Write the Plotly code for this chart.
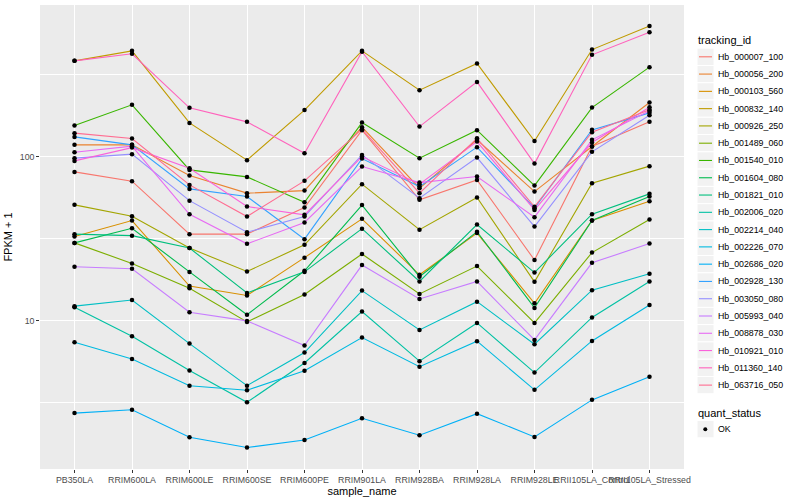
import plotly.graph_objects as go

samples = ["PB350LA", "RRIM600LA", "RRIM600LE", "RRIM600SE", "RRIM600PE",
           "RRIM901LA", "RRIM928BA", "RRIM928LA", "RRIM928LE",
           "RRII105LA_Control", "RRII105LA_Stressed"]

tracking_ids = ["Hb_000007_100", "Hb_000056_200", "Hb_000103_560", "Hb_000832_140",
                "Hb_000926_250", "Hb_001489_060", "Hb_001540_010", "Hb_001604_080",
                "Hb_001821_010", "Hb_002006_020", "Hb_002214_040", "Hb_002226_070",
                "Hb_002686_020", "Hb_002928_130", "Hb_003050_080", "Hb_005993_040",
                "Hb_008878_030", "Hb_010921_010", "Hb_011360_140", "Hb_063716_050"]

colors = ["#F8766D", "#EA8331", "#D89000", "#C09B00", "#A3A500", "#7CAE00",
          "#39B600", "#00BB4E", "#00BF7D", "#00C1A3", "#00BFC4", "#00BAE0",
          "#00B0F6", "#35A2FF", "#9590FF", "#C77CFF", "#E76BF3", "#FA62DB",
          "#FF62BC", "#FF6C91"]

# FPKM + 1 values per sample
Hb_000007_100 = [81.0, 71.1, 33.8, 33.8, 49.1, 145.5, 54.7, 72.4, 23.5, 115.6, 163.5]
Hb_000056_200 = [118.4, 118.4, 76.9, 60.1, 62.3, 151.8, 64.4, 127.0, 61.4, 115.6, 214.4]
Hb_000103_560 = [32.7, 40.9, 16.3, 14.3, 24.3, 41.9, 19.1, 34.3, 12.8, 40.9, 53.7]
Hb_000832_140 = [385, 443, 161, 95.5, 193, 443, 255, 371, 125, 451, 627]
Hb_000926_250 = [51.0, 43.5, 27.8, 20.0, 29.1, 68.2, 36.0, 56.5, 17.3, 69.1, 87.8]
Hb_001489_060 = [29.9, 22.4, 15.8, 9.86, 14.5, 25.6, 14.6, 21.6, 9.72, 26.1, 41.5]
Hb_001540_010 = [155.2, 207.6, 83.3, 75.5, 52.9, 161.9, 98.2, 145.5, 66.8, 199.8, 352.4]
Hb_001604_080 = [29.9, 36.7, 19.9, 10.9, 20.2, 50.8, 18.6, 35.0, 12.0, 40.9, 57.3]
Hb_001821_010 = [33.8, 33.1, 27.8, 14.8, 19.9, 36.5, 17.4, 38.7, 19.7, 44.7, 59.5]
Hb_002006_020 = [12.1, 8.07, 4.98, 3.19, 5.54, 11.4, 5.68, 9.72, 4.84, 10.5, 17.4]
Hb_002214_040 = [12.3, 13.4, 7.27, 4.03, 6.41, 15.3, 8.81, 13.1, 7.21, 15.4, 19.4]
Hb_002226_070 = [7.41, 5.86, 4.02, 3.78, 4.96, 7.91, 5.26, 7.52, 3.80, 7.55, 12.5]
Hb_002686_020 = [2.74, 2.87, 1.95, 1.69, 1.88, 2.55, 2.01, 2.72, 1.96, 3.30, 4.56]
Hb_002928_130 = [132.4, 118.4, 63.8, 57.3, 31.5, 97.6, 65.9, 114.6, 48.7, 146.1, 185.5]
Hb_003050_080 = [98.2, 103.9, 54.1, 34.7, 43.3, 102.8, 56.0, 99.0, 37.6, 107.3, 179.6]
Hb_005993_040 = [21.4, 20.8, 11.3, 10.0, 7.07, 21.9, 13.6, 17.4, 7.66, 22.6, 29.6]
Hb_008878_030 = [106.8, 116.2, 44.7, 29.5, 39.8, 87.3, 69.7, 75.9, 42.9, 127.0, 190.8]
Hb_010921_010 = [94.5, 113.9, 85.3, 49.8, 44.3, 100.4, 68.2, 124.0, 47.5, 122.3, 200.9]
Hb_011360_140 = [385, 425, 199, 163.5, 105.3, 438, 153, 286.6, 91.0, 418.8, 576]
Hb_063716_050 = [139.5, 129.3, 67.5, 43.3, 71.4, 147.5, 60.1, 130.0, 49.6, 141.5, 193.5]

series = [Hb_000007_100, Hb_000056_200, Hb_000103_560, Hb_000832_140, Hb_000926_250,
          Hb_001489_060, Hb_001540_010, Hb_001604_080, Hb_001821_010, Hb_002006_020,
          Hb_002214_040, Hb_002226_070, Hb_002686_020, Hb_002928_130, Hb_003050_080,
          Hb_005993_040, Hb_008878_030, Hb_010921_010, Hb_011360_140, Hb_063716_050]

quant_status = ["OK"]

FONT = "Liberation Sans, Arial, sans-serif"

W, H = 800, 500
ML, MR, MT, MB = 40, 116, 5, 31
PW, PH = W - ML - MR, H - MT - MB


def fx(px):
    return (px - ML) / PW


def fy(py):
    return (H - MB - py) / PH


fig = go.Figure()

for name, vals, col in zip(tracking_ids, series, colors):
    fig.add_trace(go.Scatter(
        x=samples, y=vals, mode="lines", name=name,
        line=dict(color=col, width=1.1),
        showlegend=False, hoverinfo="skip"))

all_x = [s for vals in series for s in samples]
all_y = [v for vals in series for v in vals]
fig.add_trace(go.Scatter(
    x=all_x, y=all_y, mode="markers", name=quant_status[0],
    marker=dict(color="black", size=4.5, symbol="circle"),
    showlegend=False, hoverinfo="skip"))

# ---- legend drawn in ggplot style (key boxes, titles) ----
shapes = []
annotations = []
key_x0, key_x1 = 697, 714
key_h = 17.28
first_c = 56.8
annotations.append(dict(text="tracking_id", xref="paper", yref="paper",
                        x=fx(696), y=fy(40), xanchor="left", yanchor="middle",
                        showarrow=False, font=dict(family=FONT, size=11, color="black")))
for i, (name, col) in enumerate(zip(tracking_ids, colors)):
    yc = first_c + key_h * i
    shapes.append(dict(type="rect", xref="paper", yref="paper",
                       x0=fx(key_x0), x1=fx(key_x1),
                       y0=fy(yc - key_h / 2), y1=fy(yc + key_h / 2),
                       fillcolor="#F2F2F2", line=dict(color="white", width=1), layer="above"))
    shapes.append(dict(type="line", xref="paper", yref="paper",
                       x0=fx(699), x1=fx(712), y0=fy(yc), y1=fy(yc),
                       line=dict(color=col, width=1.1), layer="above"))
    annotations.append(dict(text=name, xref="paper", yref="paper",
                            x=fx(716), y=fy(yc), xanchor="left", yanchor="middle",
                            showarrow=False, font=dict(family=FONT, size=8.8, color="black")))

qs_title_y = 413
annotations.append(dict(text="quant_status", xref="paper", yref="paper",
                        x=fx(696), y=fy(qs_title_y), xanchor="left", yanchor="middle",
                        showarrow=False, font=dict(family=FONT, size=11, color="black")))
for j, q in enumerate(quant_status):
    yc = 429.2 + key_h * j
    shapes.append(dict(type="rect", xref="paper", yref="paper",
                       x0=fx(key_x0), x1=fx(key_x1),
                       y0=fy(yc - key_h / 2), y1=fy(yc + key_h / 2),
                       fillcolor="#F2F2F2", line=dict(color="white", width=1), layer="above"))
    shapes.append(dict(type="circle", xref="paper", yref="paper",
                       x0=fx(703.3), x1=fx(707.3), y0=fy(yc - 2), y1=fy(yc + 2),
                       fillcolor="black", line=dict(color="black", width=0), layer="above"))
    annotations.append(dict(text=q, xref="paper", yref="paper",
                            x=fx(716), y=fy(yc), xanchor="left", yanchor="middle",
                            showarrow=False, font=dict(family=FONT, size=8.8, color="black")))

fig.update_layout(
    width=W, height=H,
    margin=dict(l=ML, r=MR, t=MT, b=MB, pad=0, autoexpand=False),
    paper_bgcolor="white",
    plot_bgcolor="#EBEBEB",
    showlegend=False,
    font=dict(family=FONT, size=9, color="#4D4D4D"),
    shapes=shapes,
    annotations=annotations,
    xaxis=dict(
        type="category",
        categoryorder="array", categoryarray=samples,
        range=[-0.6, len(samples) - 0.4],
        showgrid=True, gridcolor="white", gridwidth=1.4,
        zeroline=False, showline=False,
        ticks="outside", ticklen=2.75, tickwidth=1, tickcolor="#333333",
        tickangle=0,
        tickfont=dict(family=FONT, size=8.8, color="#4D4D4D"),
        title=dict(text="sample_name", font=dict(family=FONT, size=11, color="black"), standoff=2),
        automargin=False,
    ),
    yaxis=dict(
        type="log",
        range=[0.097, 2.926],
        tickvals=[10, 100], ticktext=["10", "100"],
        showgrid=True, gridcolor="white", gridwidth=1.4,
        minor=dict(tickvals=[10 ** 0.5, 10 ** 1.5, 10 ** 2.5], showgrid=True,
                   gridcolor="white", gridwidth=0.6, ticks=""),
        zeroline=False, showline=False,
        ticks="outside", ticklen=2.75, tickwidth=1, tickcolor="#333333",
        tickfont=dict(family=FONT, size=8.8, color="#4D4D4D"),
        title=dict(text="FPKM + 1", font=dict(family=FONT, size=11, color="black"), standoff=4),
        automargin=False,
    ),
)

fig.write_html(
    "out.html",
    config={"displayModeBar": False},
    post_script="document.body.style.margin='0px';document.body.style.padding='0px';",
)
